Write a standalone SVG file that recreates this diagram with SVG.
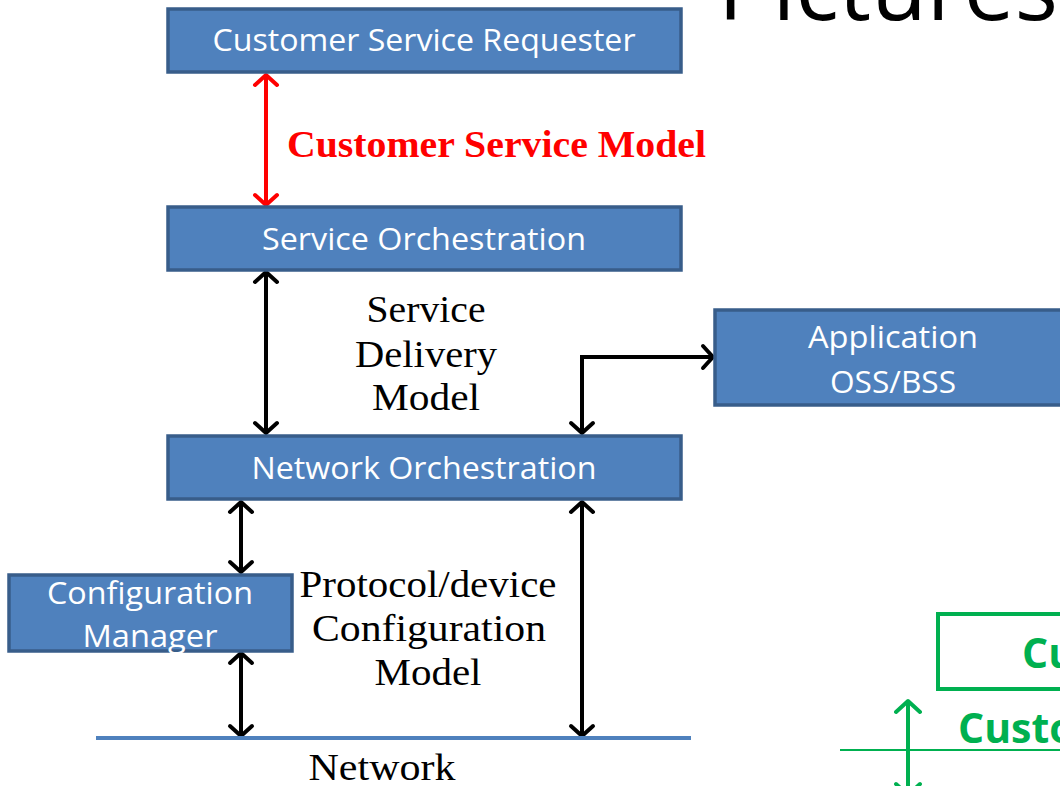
<svg xmlns="http://www.w3.org/2000/svg" width="1060" height="786" viewBox="0 0 1060 786">
<defs>
<style>
.box{fill:#4f81bd;stroke:#385d8a;stroke-width:3.5}
.bt{font-family:"Open Sans","Liberation Sans",sans-serif;font-size:31px;fill:#ffffff;text-anchor:middle}
.st{font-family:"Liberation Serif","Times New Roman",serif;font-size:37px;fill:#000000;text-anchor:middle}
.blk{fill:none;stroke:#000000;stroke-width:4;marker-start:url(#ab);marker-end:url(#ab)}
.red{fill:none;stroke:#ff0000;stroke-width:4;marker-start:url(#ar);marker-end:url(#ar)}
.grn{fill:none;stroke:#00b050;stroke-width:4;marker-start:url(#ag);marker-end:url(#ag)}
.gt{font-family:"Open Sans","Liberation Sans",sans-serif;font-weight:bold;font-size:41px;fill:#00b050}
</style>
<marker id="ab" viewBox="-14 -14 18 28" markerWidth="18" markerHeight="28" refX="0" refY="0" orient="auto-start-reverse" markerUnits="userSpaceOnUse">
<path d="M-10,-11 L0,0 L-10,11" fill="none" stroke="#000000" stroke-width="4" stroke-linecap="round" stroke-linejoin="round"/>
</marker>
<marker id="ar" viewBox="-14 -14 18 28" markerWidth="18" markerHeight="28" refX="0" refY="0" orient="auto-start-reverse" markerUnits="userSpaceOnUse">
<path d="M-10,-11 L0,0 L-10,11" fill="none" stroke="#ff0000" stroke-width="4" stroke-linecap="round" stroke-linejoin="round"/>
</marker>
<marker id="ag" viewBox="-14 -14 18 28" markerWidth="18" markerHeight="28" refX="0" refY="0" orient="auto-start-reverse" markerUnits="userSpaceOnUse">
<path d="M-11,-12 L0,0 L-11,12" fill="none" stroke="#00b050" stroke-width="4" stroke-linecap="round" stroke-linejoin="round"/>
</marker>
</defs>
<rect width="1060" height="786" fill="#ffffff"/>

<text x="718" y="20" font-family="Open Sans, Liberation Sans, sans-serif" font-size="92" fill="#000000" textLength="340" lengthAdjust="spacingAndGlyphs">Pictures</text>

<g id="connectors">
<line class="red" x1="266" y1="75" x2="266" y2="205"/>
<line class="blk" x1="266" y1="272" x2="266" y2="433"/>
<polyline class="blk" points="582,433 582,357 713,357"/>
<line class="blk" x1="241" y1="502" x2="241" y2="572"/>
<line class="blk" x1="241" y1="653" x2="241" y2="736"/>
<line class="blk" x1="582" y1="502" x2="582" y2="736"/>
<line class="grn" x1="908" y1="701" x2="908" y2="795"/>
</g>

<g id="network-line">
<line x1="96" y1="738" x2="691" y2="738" stroke="#4f81bd" stroke-width="4"/>
<text class="st" x="382" y="780" textLength="147" lengthAdjust="spacingAndGlyphs">Network</text>
</g>

<g id="customer-service-requester">
<rect class="box" x="168" y="9" width="513" height="63"/>
<text class="bt" x="424" y="51" textLength="423" lengthAdjust="spacingAndGlyphs">Customer Service Requester</text>
</g>

<g id="customer-service-model-label">
<text x="287" y="157" font-family="Liberation Serif, Times New Roman, serif" font-weight="bold" font-size="37" fill="#ff0000" textLength="419" lengthAdjust="spacingAndGlyphs">Customer Service Model</text>
</g>

<g id="service-orchestration">
<rect class="box" x="168" y="207" width="513" height="63"/>
<text class="bt" x="424" y="250" textLength="324" lengthAdjust="spacingAndGlyphs">Service Orchestration</text>
</g>

<g id="service-delivery-model-label">
<text class="st" x="426" y="322" textLength="119" lengthAdjust="spacingAndGlyphs">Service</text>
<text class="st" x="426" y="367" textLength="142" lengthAdjust="spacingAndGlyphs">Delivery</text>
<text class="st" x="426" y="410" textLength="108" lengthAdjust="spacingAndGlyphs">Model</text>
</g>

<g id="application-oss-bss">
<rect class="box" x="715" y="310" width="360" height="95"/>
<text class="bt" x="893" y="348" textLength="170" lengthAdjust="spacingAndGlyphs">Application</text>
<text class="bt" x="893" y="393" textLength="126" lengthAdjust="spacingAndGlyphs">OSS/BSS</text>
</g>

<g id="network-orchestration">
<rect class="box" x="168" y="436" width="513" height="63"/>
<text class="bt" x="424" y="479" textLength="345" lengthAdjust="spacingAndGlyphs">Network Orchestration</text>
</g>

<g id="configuration-manager">
<rect class="box" x="9" y="575" width="283" height="76"/>
<text class="bt" x="150" y="604" textLength="206" lengthAdjust="spacingAndGlyphs">Configuration</text>
<text class="bt" x="150" y="647" textLength="135" lengthAdjust="spacingAndGlyphs">Manager</text>
</g>

<g id="protocol-device-configuration-model-label">
<text class="st" x="428" y="597" textLength="257" lengthAdjust="spacingAndGlyphs">Protocol/device</text>
<text class="st" x="429" y="641" textLength="234" lengthAdjust="spacingAndGlyphs">Configuration</text>
<text class="st" x="428" y="685" textLength="107" lengthAdjust="spacingAndGlyphs">Model</text>
</g>

<g id="green-box">
<rect x="938" y="614" width="140" height="75" fill="none" stroke="#00b050" stroke-width="4"/>
<text class="gt" x="1022" y="668">Cu</text>
</g>

<g id="green-label">
<line x1="840" y1="750" x2="1060" y2="750" stroke="#00b050" stroke-width="2"/>
<text class="gt" x="958" y="743">Custo</text>
</g>
</svg>
